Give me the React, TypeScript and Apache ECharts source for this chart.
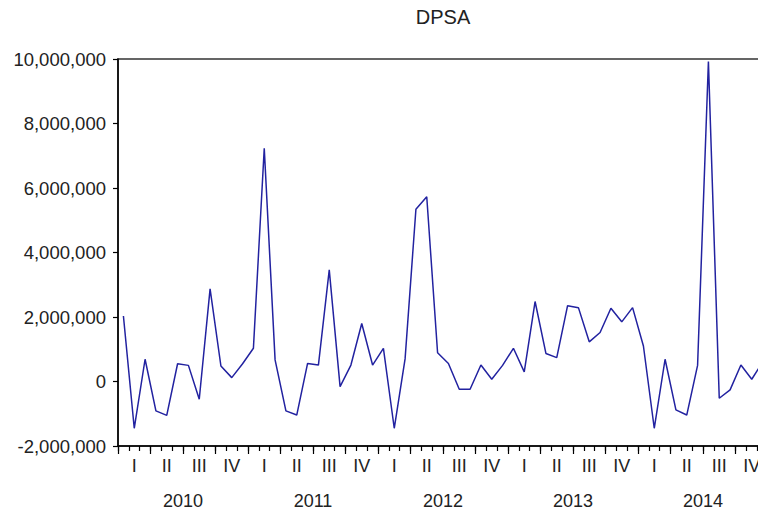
import React, { useEffect, useRef } from "react";
import * as echarts from "echarts";

const TITLE = "DPSA";
const YEARS = ["2010", "2011", "2012", "2013", "2014"];
const QUARTER_LABELS = ["I", "II", "III", "IV"];
const MONTHS = ["01", "02", "03", "04", "05", "06", "07", "08", "09", "10", "11", "12"];
const Y_TICKS = { min: -2000000, max: 10000000, interval: 2000000 };

const DPSA_2010 = [2030000, -1450000, 690000, -910000, -1050000, 550000, 500000, -550000, 2870000, 480000, 120000, 550000];
const DPSA_2011 = [1030000, 7230000, 670000, -910000, -1040000, 560000, 510000, 3460000, -160000, 510000, 1800000, 510000];
const DPSA_2012 = [1030000, -1450000, 700000, 5340000, 5730000, 890000, 560000, -240000, -240000, 510000, 70000, 500000];
const DPSA_2013 = [1030000, 300000, 2480000, 870000, 740000, 2350000, 2290000, 1230000, 1520000, 2270000, 1850000, 2290000];
const DPSA_2014 = [1100000, -1450000, 690000, -880000, -1040000, 500000, 9920000, -520000, -260000, 510000, 70000, 600000];

const monthCats = YEARS.flatMap((y) => MONTHS.map((m) => `${y}M${m}`));
const quarterCats = YEARS.flatMap((y) => QUARTER_LABELS.map((q) => `${y}|${q}`));
const values = [...DPSA_2010, ...DPSA_2011, ...DPSA_2012, ...DPSA_2013, ...DPSA_2014];

const FONT = "'Liberation Sans', Arial, sans-serif";
const GRID = { left: 118, top: 59, width: 650, height: 387, outerBoundsMode: "none", containLabel: false };

export default function App() {
  const ref = useRef<HTMLDivElement>(null);
  useEffect(() => {
    document.body.style.margin = "0";
    if (!ref.current) return;
    const chart = echarts.init(ref.current, null, { renderer: "svg" });
    const hiddenY = (gi: number) => ({ type: "value", gridIndex: gi, show: false, min: 0, max: 1 });
    chart.setOption({
      animation: false,
      backgroundColor: "#ffffff",
      graphic: [
        {
          type: "text",
          x: GRID.left + GRID.width / 2,
          y: 7,
          style: { text: TITLE, font: `20px ${FONT}`, fill: "#222", textAlign: "center" },
        },
      ],
      grid: [
        { ...GRID, show: true, borderColor: "#333", borderWidth: 1.5, backgroundColor: "transparent" },
        { ...GRID },
        { ...GRID },
      ],
      xAxis: [
        {
          type: "category",
          gridIndex: 0,
          data: monthCats,
          boundaryGap: true,
          axisLine: { show: true, onZero: false, lineStyle: { color: "#000", width: 1.5 } },
          axisTick: { show: true, interval: 0, length: 5, lineStyle: { color: "#000", width: 1.2 } },
          axisLabel: { show: false },
          splitLine: { show: false },
        },
        {
          type: "category",
          gridIndex: 1,
          data: quarterCats,
          boundaryGap: true,
          axisLine: { show: false, onZero: false },
          axisTick: { show: true, interval: 0, length: 8, lineStyle: { color: "#000", width: 1.2 } },
          axisLabel: {
            interval: 0,
            margin: 11,
            color: "#222",
            fontFamily: FONT,
            fontSize: 18,
            formatter: (v: string) => v.split("|")[1],
          },
          splitLine: { show: false },
        },
        {
          type: "category",
          gridIndex: 2,
          data: YEARS,
          boundaryGap: true,
          axisLine: { show: false, onZero: false },
          axisTick: { show: false },
          axisLabel: { interval: 0, margin: 46, color: "#222", fontFamily: FONT, fontSize: 18 },
          splitLine: { show: false },
        },
      ],
      yAxis: [
        {
          type: "value",
          gridIndex: 0,
          min: Y_TICKS.min,
          max: Y_TICKS.max,
          interval: Y_TICKS.interval,
          axisLine: { show: true, lineStyle: { color: "#000", width: 1.5 } },
          axisTick: { show: true, length: 5, lineStyle: { color: "#000", width: 1.2 } },
          axisLabel: {
            margin: 12,
            color: "#222",
            fontFamily: FONT,
            fontSize: 18.5,
            formatter: (v: number) => v.toLocaleString("en-US"),
          },
          splitLine: { show: false },
        },
        hiddenY(1),
        hiddenY(2),
      ],
      series: [
        {
          type: "line",
          xAxisIndex: 0,
          yAxisIndex: 0,
          data: values,
          symbol: "none",
          lineStyle: { color: "#2222a0", width: 1.5 },
        },
      ],
    });
    return () => chart.dispose();
  }, []);
  return <div ref={ref} style={{ width: 758, height: 514 }} />;
}
